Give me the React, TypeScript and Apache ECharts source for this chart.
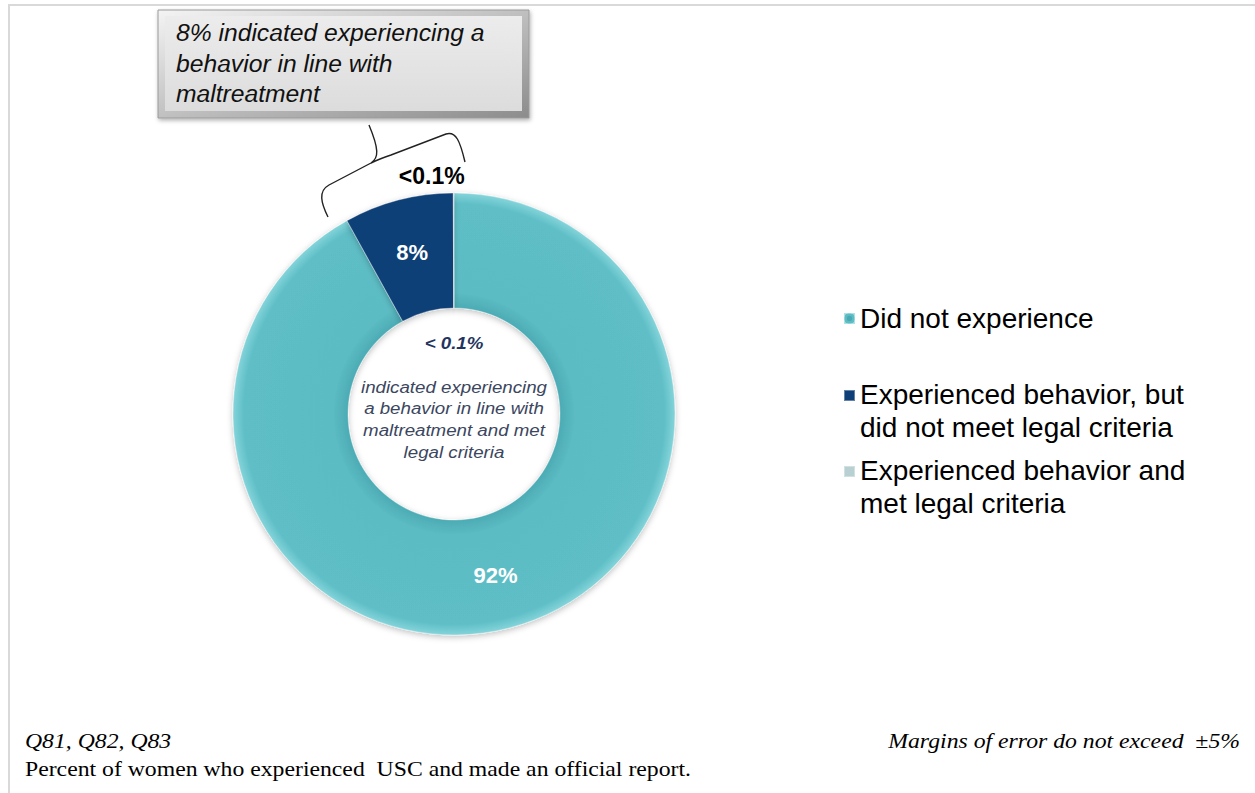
import React, { useEffect, useRef } from "react";
import * as echarts from "echarts";

const categories = [
  "Did not experience",
  "Experienced behavior, but did not meet legal criteria",
  "Experienced behavior and met legal criteria",
];
const legendLines: Record<string, string> = {
  "Did not experience": "Did not experience",
  "Experienced behavior, but did not meet legal criteria": "Experienced behavior, but\ndid not meet legal criteria",
  "Experienced behavior and met legal criteria": "Experienced behavior and\nmet legal criteria",
};
const values = [92, 8, 0.05];
const valueLabels = ["92%", "8%", "<0.1%"];
const colors = ["#5cbcc4", "#0f3f77", "#b9d0d3"];

const calloutLines = ["8% indicated experiencing a", "behavior in line with", "maltreatment"];
const centerHeadline = "< 0.1%";
const centerLines = [
  "indicated experiencing",
  "a behavior in line with",
  "maltreatment and met",
  "legal criteria",
];
const footerLeft1 = "Q81, Q82, Q83";
const footerLeft2 = "Percent of women who experienced  USC and made an official report.";
const footerRight = "Margins of error do not exceed  \u00b15%";

const BRACE =
  "M328 217 C321 203 318 191 329 185 L371 163 C379 158 379 149 369 125 M371 163 C379 159 385 157 391 155 L446 134 C456 131 460 141 465 162";

export default function App() {
  const ref = useRef<HTMLDivElement>(null);
  useEffect(() => {
    if (!ref.current) return;
    try {
      echarts.graphic.registerShape("brace", echarts.graphic.extendPath(BRACE, {}));
    } catch (e) {}
    const chart = echarts.init(ref.current, null, { renderer: "svg" });
    const cx = 454;
    const cy = 414;
    const tealFill = new echarts.graphic.RadialGradient(0.5, 0.5, 0.5, [
      { offset: 0.47, color: "#4aa9b2" },
      { offset: 0.55, color: "#5cbcc4" },
      { offset: 0.95, color: "#5ebec6" },
      { offset: 1, color: "#84d4da" },
    ]);
    const data = categories.map((name, i) => ({
      name,
      value: values[i],
      itemStyle: { color: i === 0 ? tealFill : colors[i] },
      label:
        i === 2
          ? {
              show: true,
              position: "outside",
              formatter: valueLabels[i],
              color: "#000",
              fontSize: 23,
              fontWeight: "bold",
              fontFamily: "Liberation Sans, Arial, sans-serif",
            }
          : {
              show: true,
              position: "inside",
              formatter: valueLabels[i],
              color: "#fff",
              fontSize: 22,
              fontWeight: "bold",
              fontFamily: "Liberation Sans, Arial, sans-serif",
            },
      labelLine: { show: false, length: 10, length2: 0 },
    }));

    const centerTexts: any[] = centerLines.map((t, i) => ({
      type: "text",
      x: cx,
      y: 387 + i * 21.7,
      scaleX: 1.1,
      style: {
        text: t,
        fill: "#3b4660",
        font: "italic 17px 'Liberation Sans', Arial, sans-serif",
        align: "center",
        verticalAlign: "middle",
      },
    }));

    const legendText = {
      fontSize: 28,
      lineHeight: 33,
      color: "#000",
      fontFamily: "Liberation Sans, Arial, sans-serif",
    };

    chart.setOption({
      animation: false,
      backgroundColor: "#ffffff",
      legend: [
        {
          orient: "vertical",
          left: 843,
          top: 302,
          padding: 0,
          data: [categories[0]],
          icon: "rect",
          itemWidth: 11,
          itemHeight: 11,
          itemGap: 10,
          itemTextGap: 6,
          selectedMode: false,
          formatter: (n: string) => legendLines[n],
          textStyle: legendText,
        },
        {
          orient: "vertical",
          left: 843,
          top: 377,
          padding: 0,
          data: [categories[1], categories[2]],
          icon: "path://M0 12h11v11H0z M0 0h0.01v0.01H0z M0 66h0.01v0.01H0z",
          itemWidth: 11,
          itemHeight: 66,
          itemGap: 8,
          itemTextGap: 6,
          selectedMode: false,
          formatter: (n: string) => legendLines[n],
          textStyle: legendText,
        },
      ],
      series: [
        {
          type: "pie",
          center: [cx, cy],
          radius: [106, 221],
          startAngle: 90,
          clockwise: true,
          avoidLabelOverlap: false,
          labelLayout: (p: any) => (p.dataIndex === 2 ? { dx: 16, dy: -7 } : {}),
          itemStyle: {
            borderColor: "rgba(255,255,255,0.35)",
            borderWidth: 1,
            shadowBlur: 6,
            shadowColor: "rgba(0,0,0,0.25)",
            shadowOffsetY: 2,
          },
          emphasis: { disabled: true },
          data,
        },
      ],
      graphic: [
        {
          type: "rect",
          silent: true,
          shape: { x: 9, y: 5, width: 1300, height: 900 },
          style: { fill: "none", stroke: "#d9d9d9", lineWidth: 2 },
        },
        {
          type: "rect",
          shape: { x: 158, y: 10, width: 371, height: 108 },
          style: {
            fill: new echarts.graphic.LinearGradient(0, 0, 1, 1, [
              { offset: 0, color: "#f4f4f4" },
              { offset: 1, color: "#8c8c8c" },
            ]),
            stroke: "#9a9a9a",
            lineWidth: 1,
            shadowBlur: 4,
            shadowColor: "rgba(0,0,0,0.3)",
            shadowOffsetX: 1,
            shadowOffsetY: 2,
          },
        },
        {
          type: "rect",
          shape: { x: 165, y: 16, width: 357, height: 95 },
          style: {
            fill: new echarts.graphic.LinearGradient(0, 0, 0, 1, [
              { offset: 0, color: "#ececec" },
              { offset: 1, color: "#dcdcdc" },
            ]),
          },
        },
        ...calloutLines.map((t, i) => ({
          type: "text",
          x: 176,
          y: 33 + i * 30.5,
          scaleX: 1.05,
          style: {
            text: t,
            fill: "#111",
            font: "italic 23.5px 'Liberation Sans', Arial, sans-serif",
            align: "left",
            verticalAlign: "middle",
          },
        })),
        {
          type: "brace",
          x: 0,
          y: 0,
          style: { fill: "none", stroke: "#222", lineWidth: 1.4 },
        },
        {
          type: "text",
          x: cx,
          y: 343,
          scaleX: 1.1,
          style: {
            text: centerHeadline,
            fill: "#1f3560",
            font: "italic bold 17px 'Liberation Sans', Arial, sans-serif",
            align: "center",
            verticalAlign: "middle",
          },
        },
        ...centerTexts,
        {
          type: "text",
          x: 25,
          y: 741,
          scaleX: 1.13,
          style: {
            text: footerLeft1,
            fill: "#000",
            font: "italic 21px 'Liberation Serif', 'Times New Roman', serif",
            align: "left",
            verticalAlign: "middle",
          },
        },
        {
          type: "text",
          x: 25,
          y: 769,
          scaleX: 1.13,
          style: {
            text: footerLeft2,
            fill: "#000",
            font: "21px 'Liberation Serif', 'Times New Roman', serif",
            align: "left",
            verticalAlign: "middle",
          },
        },
        {
          type: "text",
          x: 1240,
          y: 741,
          scaleX: 1.13,
          style: {
            text: footerRight,
            fill: "#000",
            font: "italic 21px 'Liberation Serif', 'Times New Roman', serif",
            align: "right",
            verticalAlign: "middle",
          },
        },
      ],
    });
    return () => chart.dispose();
  }, []);
  return (
    <div
      ref={ref}
      style={{ position: "fixed", left: 0, top: 0, width: 1255, height: 793, background: "#fff" }}
    />
  );
}
